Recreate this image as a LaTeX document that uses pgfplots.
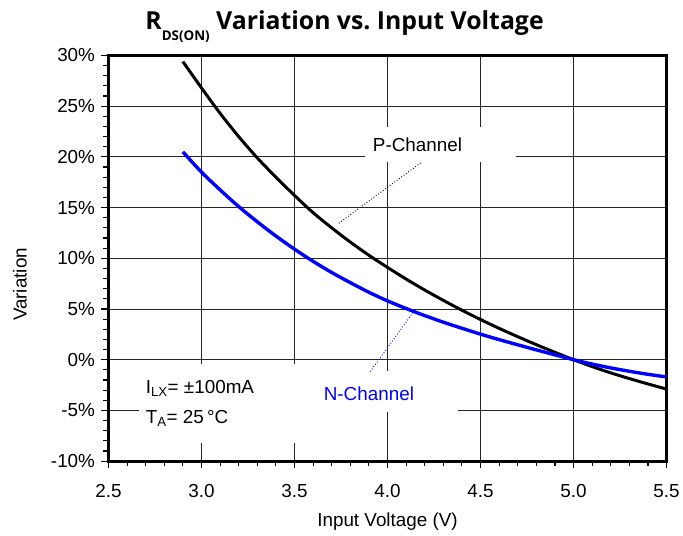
\documentclass[border=0pt]{standalone}
\usepackage{fontspec}
\setmainfont{Liberation Sans}
\newfontfamily\titlefont{Open Sans}
\usepackage{pgfplots}
\pgfplotsset{compat=1.18}
\definecolor{nblue}{RGB}{0,0,255}
\begin{document}
\begin{tikzpicture}
\begin{axis}[
  at={(0,0)}, anchor=south west,
  scale only axis, width=560.4bp, height=407.3bp,
  xmin=2.5, xmax=5.5, ymin=-10, ymax=30,
  xtick={2.5,3.0,3.5,4.0,4.5,5.0,5.5},
  ytick={-10,-5,0,5,10,15,20,25,30},
  xticklabels={2.5,3.0,3.5,4.0,4.5,5.0,5.5},
  yticklabels={-10\%,-5\%,0\%,5\%,10\%,15\%,20\%,25\%,30\%},
  minor x tick num=4, minor y tick num=4,
  grid=major, major grid style={black!85, line width=0.9bp},
  axis line style={line width=3bp},
  tick style={black, line width=1.1bp},
  major tick length=7bp, minor tick length=5bp,
  tick align=outside, xtick pos=lower, ytick pos=left,
  ticklabel style={font=\fontsize{19}{22}\selectfont},
  xticklabel style={yshift=-13bp},
  yticklabel style={xshift=-3bp},
  clip=false,
]
\addplot[black, line width=3bp, smooth] coordinates {
 (2.9,29.4) (3.0,26.8) (3.1,24.3) (3.2,22.0) (3.3,19.9) (3.4,18.0)
 (3.5,16.2) (3.6,14.5) (3.7,13.0) (3.8,11.6) (3.9,10.3) (4.0,9.1)
 (4.1,7.95) (4.2,6.87) (4.3,5.85) (4.4,4.88) (4.5,3.96) (4.6,3.09)
 (4.7,2.27) (4.8,1.48) (4.9,0.73) (5.0,0) (5.1,-0.68) (5.2,-1.30)
 (5.3,-1.86) (5.4,-2.39) (5.5,-2.9)};
\addplot[nblue, line width=3.4bp, smooth] coordinates {
 (2.9,20.5) (3.0,18.5) (3.1,16.75) (3.2,15.1) (3.3,13.6) (3.4,12.2)
 (3.5,10.9) (3.6,9.7) (3.7,8.6) (3.8,7.6) (3.9,6.65) (4.0,5.8)
 (4.1,5.05) (4.2,4.35) (4.3,3.7) (4.4,3.1) (4.5,2.52) (4.6,1.98)
 (4.7,1.47) (4.8,0.97) (4.9,0.48) (5.0,0) (5.1,-0.43) (5.2,-0.81)
 (5.3,-1.14) (5.4,-1.44) (5.5,-1.7)};
\fill[white] (axis cs:3.877,22.9) rectangle (axis cs:4.690,19.48);
\fill[white] (axis cs:3.428,-1.1) rectangle (axis cs:4.377,-5.15);
\fill[white] (axis cs:2.666,-0.4) rectangle (axis cs:3.523,-8.17);
\draw[black, line width=0.9bp, dotted] (axis cs:4.178,19.41) -- (axis cs:3.736,13.43);
\draw[nblue, line width=0.9bp, dotted] (axis cs:3.907,-1.18) -- (axis cs:4.147,4.90);
\node[font=\fontsize{19}{22}\selectfont] at (axis cs:4.161,21.24) {P-Channel};
\node[font=\fontsize{19}{22}\selectfont, text=nblue] at (axis cs:3.900,-3.36) {N-Channel};
\node[font=\fontsize{19}{22}\selectfont, anchor=west, inner sep=0pt] at (axis cs:2.700,-2.8) {I\textsubscript{LX}= ±100mA};
\node[font=\fontsize{19}{22}\selectfont, anchor=west, inner sep=0pt] at (axis cs:2.700,-5.8) {T\textsubscript{A}= 25\,°C};
\node[font=\fontsize{19}{22}\selectfont] at (rel axis cs:0.5,0) [yshift=-61bp] {Input Voltage (V)};
\node[font=\fontsize{19}{22}\selectfont, rotate=90] at (axis cs:2.024,7.42) {Variation};
\node[anchor=base, font=\titlefont\bfseries\fontsize{25}{28}\selectfont] at (rel axis cs:0.423,1) [yshift=26.4bp] {R\raisebox{-11.7bp}{\fontsize{13.5}{14}\selectfont DS(ON)} Variation vs.\ Input Voltage};
\end{axis}
\path[use as bounding box] (-108.9bp,-75bp) rectangle (574.1bp,463bp);
\end{tikzpicture}
\end{document}
